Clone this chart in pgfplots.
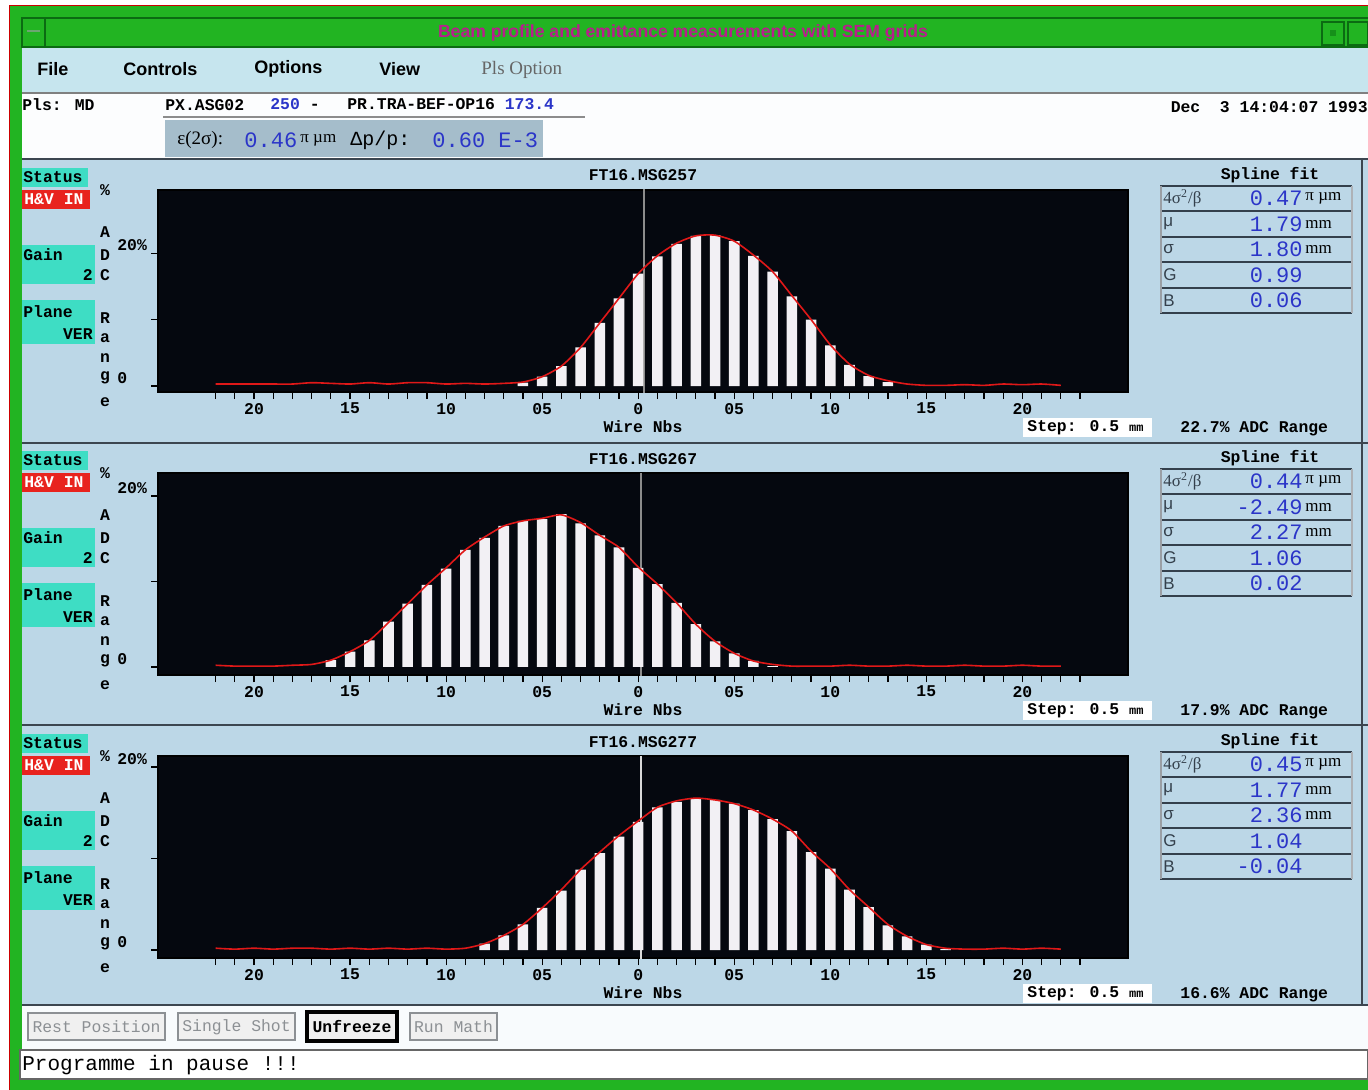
\documentclass[border=0pt]{standalone}
\usepackage{pgfplots}
\pgfplotsset{compat=1.18}
\usepackage{fontspec}
\setmainfont{Liberation Mono}
\newfontfamily\mono{Liberation Mono}
\newfontfamily\sans{Liberation Sans}
\newfontfamily\serif{Liberation Serif}
\definecolor{wingreen}{HTML}{22B422}
\definecolor{darkgreen}{HTML}{0B6B12}
\definecolor{titlemag}{HTML}{B81E8C}
\definecolor{panelbg}{HTML}{BCD7E7}
\definecolor{menubg}{HTML}{C6E5EE}
\definecolor{plotbg}{HTML}{05080F}
\definecolor{tealbox}{HTML}{3EDDC4}
\definecolor{hvred}{HTML}{E8231E}
\definecolor{valblue}{HTML}{2B35C8}
\definecolor{barwhite}{HTML}{F2F0F4}
\definecolor{curvered}{HTML}{E01818}
\definecolor{divider}{HTML}{3C4650}
\definecolor{tableline}{HTML}{34404C}
\definecolor{btngray}{HTML}{8C9094}
\newcommand\lab{\mono\bfseries\fontsize{8.2}{10}\selectfont}
\newcommand\labs{\sans\fontsize{8.5}{10}\selectfont}
\newcommand\val{\mono\fontsize{11}{12}\selectfont\color{valblue}}
\newcommand\unit{\serif\fontsize{8.5}{10}\selectfont}
\pgfplotsset{panel/.style={
  scale only axis, width=485pt, height=101pt, anchor=north west,
  xmin=-25, xmax=25.5,
  axis background/.style={fill=plotbg},
  axis line style={black, line width=0.6pt},
  xtick={-20,-15,...,20},
  xticklabels={20,15,10,05,0,05,10,15,20},
  minor xtick={-22,-21,...,23},
  ytick={0,10,20}, yticklabels={0,,20\%},
  tick pos=left, tick align=outside,
  major tick length=3.5pt, minor tick length=3.5pt,
  tick style={black, line width=0.6pt},
  ticklabel style={font=\lab},
  xticklabel style={yshift=1.5pt},
  yticklabel style={anchor=west, inner sep=0pt, xshift=-17pt, yshift=4pt},
  /pgf/number format/assume math mode=true,
  xlabel={Wire Nbs},
  xlabel style={font=\lab, at={(0.5,0)}, anchor=base, yshift=-20pt},
  title style={font=\lab, at={(0.5,1)}, anchor=base, yshift=-1.5pt},
}}
\newcommand\panelui[6]{%
\begin{scope}[shift={(0,#1)}]
 \fill[tealbox] (22,168) rectangle (88,187);
 \node[anchor=west,inner sep=0,font=\lab] at (23,177) {Status};
 \fill[hvred] (22,190) rectangle (90,209);
 \node[anchor=west,inner sep=0,font=\lab,text=white] at (24,199.5) {H\&V IN};
 \fill[tealbox] (22,245) rectangle (95,284);
 \node[anchor=west,inner sep=0,font=\lab] at (23,255) {Gain};
 \node[anchor=east,inner sep=0,font=\lab] at (93,275) {2};
 \fill[tealbox] (22,300) rectangle (95,344);
 \node[anchor=west,inner sep=0,font=\lab] at (23,312) {Plane};
 \node[anchor=east,inner sep=0,font=\lab] at (93,334) {VER};
 \node[font=\lab,inner sep=0] at (105,190) {\%};
 \foreach \lt/\yy in {A/232,D/255,C/275,R/318,a/338,n/358,g/378,e/402}
   \node[font=\lab,inner sep=0] at (105,\yy) {\lt};
 \fill[white] (1023,418) rectangle (1152,437);
 \node[font=\lab,inner sep=0,anchor=west] at (1027,428) {Step: 0.5 {\fontsize{6}{7}\selectfont mm}};
 \node[font=\lab,inner sep=0,anchor=west] at (1180,429) {#2\% ADC Range};
 \node[font=\lab,inner sep=0] at (1270,175) {Spline fit};
 \foreach \yy in {186,211,237,262,288,313}
   \draw[tableline, line width=0.8pt] (1160,\yy) -- (1352,\yy);
 \draw[tableline!50!white, line width=0.6pt] (1161,186) -- (1161,313);
 \draw[tableline!40!white, line width=0.6pt] (1352,186) -- (1352,313);
 \node[anchor=west,inner sep=0,font=\unit,text=tableline] at (1163,198.5) {4σ\textsuperscript{2}/β};
 \node[anchor=west,inner sep=0,font=\labs,text=tableline] at (1163,224) {μ};
 \node[anchor=west,inner sep=0,font=\labs,text=tableline] at (1163,249.5) {σ};
 \node[anchor=west,inner sep=0,font=\labs,text=tableline] at (1163,275) {G};
 \node[anchor=west,inner sep=0,font=\labs,text=tableline] at (1163,300.5) {B};
 \node[anchor=east,inner sep=0] at (1303,198.5) {\val #3};
 \node[anchor=west,inner sep=0,font=\unit] at (1305,198.5) {π µm};
 \node[anchor=east,inner sep=0] at (1303,224) {\val #4};
 \node[anchor=west,inner sep=0,font=\unit] at (1305,224) {mm};
 \node[anchor=east,inner sep=0] at (1303,249.5) {\val #5};
 \node[anchor=west,inner sep=0,font=\unit] at (1305,249.5) {mm};
 \node[anchor=east,inner sep=0] at (1303,275) {\val #6};
\end{scope}}
\newcommand\lastval[2]{\node[anchor=east,inner sep=0] at (1303,300.5+#1) {\val #2};}
\begin{document}
\begin{tikzpicture}[x=0.5pt,y=-0.5pt]
\useasboundingbox (0,0) rectangle (1368,1090);
% frame
\fill[wingreen] (0,0) rectangle (1368,1090);
\fill[white] (0,0) rectangle (1368,5);
\fill[white] (0,0) rectangle (9,1090);
\draw[red!80!black, line width=0.6pt] (9.5,5.5) -- (1368,5.5);
\draw[red!80!black, line width=0.6pt] (9.5,5.5) -- (9.5,1090);
% title bar
\draw[darkgreen, line width=1pt] (22,18) -- (1368,18);
\draw[darkgreen, line width=1pt] (22,47) -- (1368,47);
\draw[darkgreen, line width=0.8pt] (22,18) rectangle (45,47);
\draw[darkgreen!60!white, line width=0.8pt] (27,31) -- (40,31);
\draw[darkgreen, line width=0.8pt] (1322,22) rectangle (1344,45);
\fill[darkgreen!50!wingreen] (1330,30) rectangle (1336,36);
\draw[darkgreen, line width=0.8pt] (1348,22) rectangle (1368,45);
\node[font=\sans\bfseries\fontsize{8.8}{10}\selectfont, text=titlemag, inner sep=0] at (683,33) {Beam profile and emittance measurements with SEM grids};
% menu bar
\fill[menubg] (22,48) rectangle (1368,93);
\node[font=\sans\bfseries\fontsize{9}{10}\selectfont, anchor=west, inner sep=0] at (37,69) {File};
\node[font=\sans\bfseries\fontsize{9}{10}\selectfont, anchor=west, inner sep=0] at (123,69) {Controls};
\node[font=\sans\bfseries\fontsize{9}{10}\selectfont, anchor=west, inner sep=0] at (254,69) {Options};
\node[font=\sans\bfseries\fontsize{9}{10}\selectfont, anchor=west, inner sep=0] at (379,69) {View};
\node[font=\serif\fontsize{9.5}{10}\selectfont, text=black!60, anchor=west, inner sep=0] at (481,70) {Pls Option};
% info area
\fill[white!96!panelbg] (22,93) rectangle (1368,158);
\draw[black!50, line width=0.6pt] (22,93) -- (1368,93);
\node[font=\lab, anchor=west, inner sep=0] at (22,105) {Pls: MD};
\node[font=\lab, anchor=west, inner sep=0] at (165,105) {PX.ASG02};
\node[font=\lab, anchor=base west, inner sep=0] at (270,110) {{\color{valblue}250}~-};
\node[font=\lab, anchor=base west, inner sep=0] at (347,110) {PR.TRA-BEF-OP16 {\color{valblue}173.4}};
\draw[black!45, line width=0.8pt] (163,117) -- (585,117);
\fill[black!12!panelbg] (165,120) rectangle (543,157);
\node[font=\unit\fontsize{9.5}{10}\selectfont, anchor=west, inner sep=0] at (177,140) {ε(2σ):};
\node[anchor=west, inner sep=0] at (244,140) {\val 0.46};
\node[font=\unit, anchor=west, inner sep=0] at (300,140) {π µm};
\node[font=\mono\fontsize{10}{11}\selectfont, anchor=west, inner sep=0] at (350,140) {Δp/p:};
\node[anchor=west, inner sep=0] at (432,140) {\val 0.60 E-3};
\node[font=\lab, anchor=east, inner sep=0] at (1368,107) {Dec~~3 14:04:07 1993};
% panels background
\fill[panelbg] (22,158) rectangle (1368,1005);
\foreach \yy in {159,443,725,1005}
  \draw[divider, line width=1.2pt] (22,\yy) -- (1368,\yy);
\draw[divider, line width=1pt] (1362,158) -- (1362,1005);
% bottom area
\fill[white!90!panelbg] (22,1006) rectangle (1368,1049);
\foreach \xa/\xb/\txt in {28/165/Rest Position,178/295/Single Shot,410/497/Run Math}{
  \fill[black!6] (\xa,1013) rectangle (\xb,1040);
  \draw[btngray, line width=0.6pt] (\xa,1013) rectangle (\xb,1040);
  \node[font=\mono\fontsize{8.2}{10}\selectfont, text=btngray, inner sep=0] at ({(\xa+\xb)/2},1027) {\txt};
}
\fill[black!6] (307,1012) rectangle (397,1041);
\draw[black, line width=1.6pt] (307,1012) rectangle (397,1041);
\node[font=\lab, inner sep=0] at (352,1027) {Unfreeze};
\fill[white] (20,1050) rectangle (1368,1079);
\draw[black!60, line width=0.8pt] (20,1050) rectangle (1368,1079);
\node[font=\mono\fontsize{10.5}{12}\selectfont, anchor=west, inner sep=0] at (22,1065) {Programme in pause !!!};
% panel UI
\panelui{0}{22.7}{0.47}{1.79}{1.80}{0.99}
\lastval{0}{0.06}
\panelui{283}{17.9}{0.44}{-2.49}{2.27}{1.06}
\lastval{283}{0.02}
\panelui{566}{16.6}{0.45}{1.77}{2.36}{1.04}
\lastval{566}{-0.04}
% ---------- panel 1
\begin{axis}[panel, at={(79pt,-95pt)}, ymin=-0.9, ymax=29.5, title={FT16.MSG257}]
\addplot[black!45!white, line width=0.6pt] coordinates {(0.3,-1) (0.3,30)};
\addplot[ybar, bar width=0.55, fill=barwhite, draw=none] coordinates {
(-6,0.5) (-5,1.4) (-4,3.0) (-3,5.8) (-2,9.5) (-1,13.2) (0,16.9) (1,19.5) (2,21.4) (3,22.6)
(4,22.7) (5,21.8) (6,19.6) (7,17.2) (8,13.5) (9,10.0) (10,6.1) (11,3.2) (12,1.5) (13,0.6)};
\addplot[curvered, line width=0.8pt, smooth, tension=0.4] coordinates {
(-22,0.3) (-21,0.3) (-20,0.3) (-19,0.3) (-18,0.3) (-17,0.5) (-16,0.4) (-15,0.3) (-14,0.5)
(-13,0.3) (-12,0.5) (-11,0.5) (-10,0.3) (-9,0.4) (-8,0.3) (-7,0.4) (-6,0.6) (-5,1.4) (-4,3.0)
(-3,5.8) (-2,9.5) (-1,13.2) (0,16.9) (1,19.6) (2,21.5) (3,22.6) (4,22.7) (5,21.8) (6,19.7)
(7,17.2) (8,13.6) (9,10.0) (10,6.2) (11,3.3) (12,1.6) (13,0.8) (14,0.3) (15,0.1) (16,0.1)
(17,0.2) (18,0.1) (19,0.3) (20,0.2) (21,0.3) (22,0.1)};
\end{axis}
% ---------- panel 2
\begin{axis}[panel, at={(79pt,-236.5pt)}, ymin=-0.94, ymax=22.7, title={FT16.MSG267}]
\addplot[black!45!white, line width=0.6pt] coordinates {(0.15,-1) (0.15,30)};
\addplot[ybar, bar width=0.55, fill=barwhite, draw=none] coordinates {
(-16,0.8) (-15,1.8) (-14,3.1) (-13,5.3) (-12,7.4) (-11,9.6) (-10,11.5) (-9,13.7) (-8,15.1)
(-7,16.5) (-6,17.1) (-5,17.3) (-4,17.9) (-3,16.8) (-2,15.4) (-1,14.0) (0,11.6) (1,9.7)
(2,7.5) (3,5.0) (4,3.0) (5,1.6) (6,0.7) (7,0.1)};
\addplot[curvered, line width=0.8pt, smooth, tension=0.4] coordinates {
(-22,0.2) (-21,0.1) (-20,0.1) (-19,0.1) (-18,0.2) (-17,0.3) (-16,0.8) (-15,1.8) (-14,3.1)
(-13,5.2) (-12,7.4) (-11,9.6) (-10,11.6) (-9,13.7) (-8,15.2) (-7,16.5) (-6,17.1) (-5,17.4)
(-4,17.8) (-3,16.9) (-2,15.4) (-1,14.0) (0,11.7) (1,9.7) (2,7.5) (3,5.0) (4,3.0) (5,1.6)
(6,0.7) (7,0.3) (8,0.1) (9,0.1) (10,0.1) (11,0.2) (12,0.1) (13,0.1) (14,0.2) (15,0.1)
(16,0.1) (17,0.2) (18,0.1) (19,0.1) (20,0.2) (21,0.1) (22,0.1)};
\end{axis}
% ---------- panel 3
\begin{axis}[panel, at={(79pt,-378pt)}, ymin=-0.87, ymax=21.2, title={FT16.MSG277}]
\addplot[white!85!black, line width=0.8pt] coordinates {(0.15,-1) (0.15,30)};
\addplot[ybar, bar width=0.55, fill=barwhite, draw=none] coordinates {
(-8,0.7) (-7,1.6) (-6,2.8) (-5,4.6) (-4,6.5) (-3,8.8) (-2,10.6) (-1,12.4) (0,14.0) (1,15.6)
(2,16.2) (3,16.5) (4,16.4) (5,16.0) (6,15.3) (7,14.3) (8,13.0) (9,10.7) (10,8.9) (11,6.6)
(12,4.7) (13,2.7) (14,1.5) (15,0.6) (16,0.1)};
\addplot[curvered, line width=0.8pt, smooth, tension=0.4] coordinates {
(-22,0.2) (-21,0.1) (-20,0.2) (-19,0.1) (-18,0.2) (-17,0.2) (-16,0.1) (-15,0.2) (-14,0.1)
(-13,0.2) (-12,0.1) (-11,0.2) (-10,0.1) (-9,0.2) (-8,0.7) (-7,1.6) (-6,2.8) (-5,4.6) (-4,6.6)
(-3,8.8) (-2,10.7) (-1,12.5) (0,14.1) (1,15.6) (2,16.3) (3,16.6) (4,16.4) (5,16.0) (6,15.3)
(7,14.3) (8,13.0) (9,10.8) (10,8.9) (11,6.6) (12,4.7) (13,2.8) (14,1.5) (15,0.6) (16,0.2)
(17,0.1) (18,0.1) (19,0.2) (20,0.1) (21,0.2) (22,0.1)};
\end{axis}
\end{tikzpicture}
\end{document}
